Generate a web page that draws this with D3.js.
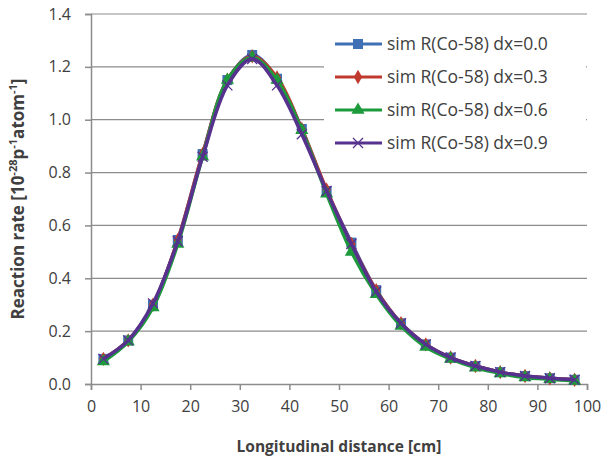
<!DOCTYPE html>
<html>
<head>
<script src="https://d3js.org/d3.v7.min.js"></script>
<style>
  body { margin: 0; background: white; }
  text { font-family: "Open Sans", "Noto Sans", sans-serif; fill: #404040; }
</style>
</head>
<body>
<svg width="606" height="466"></svg>
<script>
// data
const distance = [2.5, 7.5, 12.5, 17.5, 22.5, 27.5, 32.5, 37.5, 42.5, 47.5,
                  52.5, 57.5, 62.5, 67.5, 72.5, 77.5, 82.5, 87.5, 92.5, 97.5];
const rate_dx00 = [0.095, 0.165, 0.30, 0.545, 0.87, 1.15, 1.245, 1.155, 0.965, 0.73,
                   0.535, 0.355, 0.23, 0.15, 0.10, 0.068, 0.045, 0.03, 0.022, 0.016];
const rate_dx03 = [0.095, 0.165, 0.30, 0.545, 0.87, 1.15, 1.24, 1.16, 0.965, 0.735,
                   0.53, 0.355, 0.23, 0.15, 0.10, 0.068, 0.045, 0.03, 0.022, 0.016];
const rate_dx06 = [0.085, 0.16, 0.29, 0.53, 0.86, 1.15, 1.235, 1.15, 0.96, 0.72,
                   0.50, 0.34, 0.22, 0.14, 0.095, 0.062, 0.04, 0.025, 0.018, 0.012];
const rate_dx09 = [0.095, 0.165, 0.305, 0.54, 0.86, 1.13, 1.23, 1.13, 0.945, 0.73,
                   0.53, 0.35, 0.23, 0.15, 0.10, 0.068, 0.045, 0.03, 0.022, 0.016];
const seriesNames = ["sim R(Co-58) dx=0.0", "sim R(Co-58) dx=0.3",
                     "sim R(Co-58) dx=0.6", "sim R(Co-58) dx=0.9"];
const xTicks = [0, 10, 20, 30, 40, 50, 60, 70, 80, 90, 100];
const yTicks = [0, 0.2, 0.4, 0.6, 0.8, 1.0, 1.2, 1.4];

const colors = ["#3f6fb5", "#c0392f", "#1d9a3c", "#56318e"];
const shapes = ["square", "diamond", "triangle", "cross"];

const svg = d3.select("svg");
const x = d3.scaleLinear().domain([0, 100]).range([91, 587]);
const y = d3.scaleLinear().domain([0, 1.4]).range([384, 14]);

// gridlines
svg.append("g").selectAll("line").data(yTicks.filter(d => d > 0)).enter().append("line")
  .attr("x1", x(0)).attr("x2", x(100))
  .attr("y1", d => y(d)).attr("y2", d => y(d))
  .attr("stroke", "#8c8c8c").attr("stroke-width", 1.2);

// axes
const xAxis = svg.append("g").attr("transform", `translate(0,${y(0)})`)
  .call(d3.axisBottom(x).tickValues(xTicks).tickSize(6).tickPadding(11).tickFormat(d3.format("d")));
const yAxis = svg.append("g").attr("transform", `translate(${x(0)},0)`)
  .call(d3.axisLeft(y).tickValues(yTicks).tickSize(6).tickPadding(14).tickFormat(d3.format(".1f")));
[xAxis, yAxis].forEach(a => {
  a.select(".domain").attr("stroke", "#8c8c8c").attr("stroke-width", 1.5);
  a.selectAll(".tick line").attr("stroke", "#8c8c8c").attr("stroke-width", 1.5);
  a.selectAll(".tick text").style("font-size", "16px").attr("fill", "#404040");
});

// series
const allSeries = [rate_dx00, rate_dx03, rate_dx06, rate_dx09];
const line = d3.line().x(d => x(d[0])).y(d => y(d[1])).curve(d3.curveCatmullRom.alpha(0.5));

function marker(g, shape, color, cx, cy) {
  if (shape === "square") {
    g.append("rect").attr("x", cx - 5).attr("y", cy - 5).attr("width", 10).attr("height", 10).attr("fill", color);
  } else if (shape === "diamond") {
    g.append("path").attr("d", d3.symbol(d3.symbolDiamond, 60)()).attr("transform", `translate(${cx},${cy})`).attr("fill", color);
  } else if (shape === "triangle") {
    g.append("path").attr("d", d3.symbol(d3.symbolTriangle, 75)()).attr("transform", `translate(${cx},${cy})`).attr("fill", color);
  } else {
    g.append("path").attr("d", `M${cx-5},${cy-5}L${cx+5},${cy+5}M${cx-5},${cy+5}L${cx+5},${cy-5}`)
      .attr("stroke", color).attr("stroke-width", 1.3).attr("fill", "none");
  }
}

allSeries.forEach((vals, i) => {
  const pts = distance.map((d, j) => [d, vals[j]]);
  const g = svg.append("g");
  g.append("path").datum(pts).attr("d", line)
    .attr("fill", "none").attr("stroke", colors[i]).attr("stroke-width", 3.5);
  pts.forEach(p => marker(g, shapes[i], colors[i], x(p[0]), y(p[1])));
});

// legend
const legend = svg.append("g");
legend.append("rect").attr("x", 324).attr("y", 26).attr("width", 262).attr("height", 134).attr("fill", "white");
seriesNames.forEach((name, i) => {
  const ly = 44 + i * 33;
  legend.append("line").attr("x1", 335).attr("x2", 382).attr("y1", ly).attr("y2", ly)
    .attr("stroke", colors[i]).attr("stroke-width", 3);
  marker(legend, shapes[i], colors[i], 358, ly);
  legend.append("text").attr("x", 387).attr("y", ly + 6).style("font-size", "17.5px").text(name);
});

// axis titles
svg.append("text").attr("x", x(50)).attr("y", 452).attr("text-anchor", "middle")
  .style("font-size", "15.5px").style("font-weight", "bold").text("Longitudinal distance [cm]");

const yt = svg.append("text").attr("transform", `translate(24,${y(0.7)}) rotate(-90)`)
  .attr("text-anchor", "middle").style("font-size", "17px").style("font-weight", "bold");
yt.append("tspan").text("Reaction rate [10");
yt.append("tspan").attr("dy", -7).style("font-size", "11px").text("-28");
yt.append("tspan").attr("dy", 7).text("p");
yt.append("tspan").attr("dy", -7).style("font-size", "11px").text("-1");
yt.append("tspan").attr("dy", 7).text("atom");
yt.append("tspan").attr("dy", -7).style("font-size", "11px").text("-1");
yt.append("tspan").attr("dy", 7).text("]");
</script>
</body>
</html>
